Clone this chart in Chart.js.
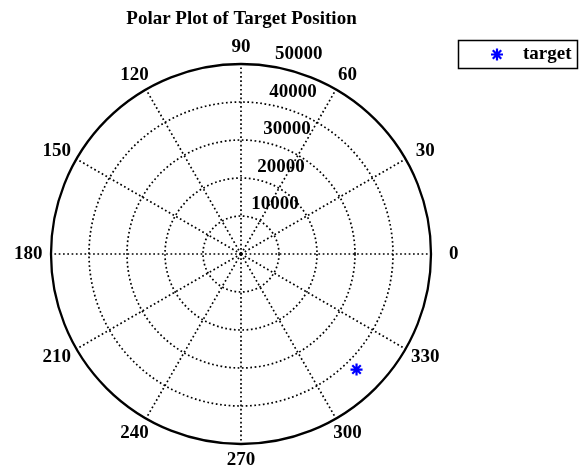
<!DOCTYPE html>
<html>
<head>
<meta charset="utf-8">
<script src="https://cdn.jsdelivr.net/npm/chart.js@4/dist/chart.umd.min.js"></script>
<style>
  html, body { margin: 0; padding: 0; background: #ffffff; }
  canvas { display: block; }
</style>
</head>
<body>
<canvas id="polar" width="581" height="471"></canvas>
<script>
// Bearings in 15-degree steps, listed clockwise on screen starting from 0 at the right
const bearings = [0, 345, 330, 315, 300, 285, 270, 255, 240, 225, 210, 195,
                  180, 165, 150, 135, 120, 105, 90, 75, 60, 45, 30, 15];
// Only every 30 degrees gets a spoke and a label
const labelledBearings = [0, 30, 60, 90, 120, 150, 180, 210, 240, 270, 300, 330];
// Range rings
const ringTicks = [10000, 20000, 30000, 40000, 50000];
// Target measurement (bearing in degrees, range)
const targetBearing = [315];
const targetRange = [43000];

const serif = "'Liberation Serif', 'Times New Roman', serif";
const markerBlue = '#0000ff';

const targetData = bearings.map(b => {
  const k = targetBearing.indexOf(b);
  return k >= 0 ? targetRange[k] : null;
});

const isLabelled = i => labelledBearings.includes(bearings[i]);
const outerRing = ringTicks[ringTicks.length - 1];
const dots = [1.7, 2.6];

// Angle labels, range labels and the boxed legend
const polarText = {
  id: 'polarText',
  afterDraw(chart) {
    const ctx = chart.ctx;
    const r = chart.scales.r;
    const cx = r.xCenter, cy = r.yCenter, R = r.drawingArea;
    ctx.save();
    ctx.fillStyle = '#000';
    ctx.font = `bold 19px ${serif}`;
    ctx.textAlign = 'center';
    ctx.textBaseline = 'middle';
    bearings.forEach((b, i) => {
      if (!isLabelled(i)) return;
      const p = r.getPointPosition(i, R);
      const x = cx + (p.x - cx) * 1.12;
      const y = cy + (p.y - cy) * 1.087;
      ctx.fillText(String(b), x, y);
    });

    ctx.textAlign = 'left';
    const a = 81 * Math.PI / 180;
    ringTicks.forEach(v => {
      const rr = r.getDistanceFromCenterForValue(v);
      ctx.fillText(String(v), cx + rr * Math.cos(a) + 4.4, cy - rr * Math.sin(a) - 12);
    });

    // legend
    const ds = chart.data.datasets[0];
    ctx.lineWidth = 1.5;
    ctx.strokeStyle = '#000';
    ctx.setLineDash([]);
    ctx.strokeRect(458.5, 40.5, 119, 28);
    ctx.strokeStyle = ds.pointBorderColor;
    ctx.lineWidth = ds.pointBorderWidth;
    Chart.helpers.drawPoint(ctx, {pointStyle: ds.pointStyle, radius: ds.pointRadius, borderWidth: ds.pointBorderWidth}, 497, 54.5);
    ctx.fillStyle = '#000';
    ctx.textAlign = 'left';
    ctx.fillText(ds.label, 523, 54.5);
    ctx.restore();
  }
};

new Chart(document.getElementById('polar'), {
  type: 'radar',
  data: {
    labels: bearings.map(String),
    datasets: [{
      label: 'target',
      data: targetData,
      showLine: false,
      fill: false,
      borderWidth: 0,
      pointStyle: 'star',
      pointRadius: 6,
      pointHoverRadius: 6,
      pointBorderWidth: 2.2,
      pointBorderColor: markerBlue,
      pointBackgroundColor: markerBlue
    }]
  },
  options: {
    responsive: false,
    animation: false,
    devicePixelRatio: 1,
    layout: { padding: { left: 51, right: 149, top: 0, bottom: 26 } },
    plugins: {
      legend: { display: false },
      tooltip: { enabled: false },
      title: {
        display: true,
        text: 'Polar Plot of Target Position',
        color: '#000',
        font: { family: serif, size: 19, weight: 'bold' },
        padding: { top: 8, bottom: 33 }
      }
    },
    scales: {
      r: {
        min: 0,
        max: outerRing,
        startAngle: 90,
        ticks: { display: false, stepSize: 10000 },
        pointLabels: { display: false },
        grid: {
          circular: true,
          color: '#000',
          lineWidth: c => c.tick && c.tick.value === outerRing ? 2.3 : 1.7
        },
        border: {
          dash: c => c.tick && c.tick.value === outerRing ? [] : dots
        },
        angleLines: {
          display: true,
          color: '#000',
          lineWidth: c => isLabelled(c.index) ? 1.7 : 0,
          borderDash: dots
        }
      }
    }
  },
  plugins: [polarText]
});
</script>
</body>
</html>
